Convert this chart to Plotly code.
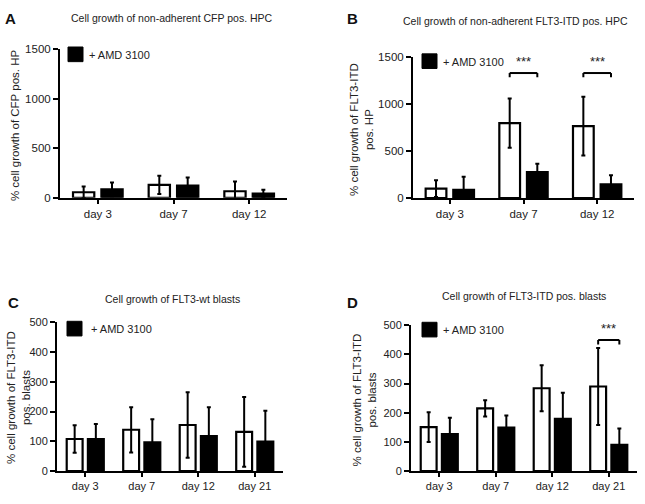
import plotly.graph_objects as go

# ---------------- data ----------------
days_3 = ["day 3", "day 7", "day 12"]
days_4 = ["day 3", "day 7", "day 12", "day 21"]

A_ctrl = [56, 130, 66]
A_ctrl_err = [59, 92, 98]
A_amd = [85, 122, 42]
A_amd_err = [70, 82, 40]

B_ctrl = [100, 797, 765]
B_ctrl_err = [90, 262, 312]
B_amd = [87, 277, 146]
B_amd_err = [138, 87, 97]

C_ctrl = [108, 139, 155, 132]
C_ctrl_err = [46, 76, 110, 117]
C_amd = [108, 97, 118, 99]
C_amd_err = [50, 77, 97, 104]

D_ctrl = [151, 215, 284, 290]
D_ctrl_err = [51, 28, 79, 132]
D_amd = [127, 149, 179, 90]
D_amd_err = [56, 42, 90, 56]

# significance: (category, label, bracket height)
B_sig = [("day 7", "***", 1330), ("day 12", "***", 1330)]
D_sig = [("day 21", "***", 449)]

titles = ["Cell growth of non-adherent CFP pos. HPC",
          "Cell growth of non-adherent FLT3-ITD pos. HPC",
          "Cell growth of FLT3-wt blasts",
          "Cell growth of FLT3-ITD pos. blasts"]
ytitles = ["% cell growth of CFP pos. HP",
           "% cell growth of FLT3-ITD<br>pos. HP",
           "% cell growth of FLT3-ITD<br>pos. blasts",
           "% cell growth of FLT3-ITD<br>pos. blasts"]
letters = ["A", "B", "C", "D"]
legend_label = "+ AMD 3100"

# ---------------- layout helpers ----------------
W, H = 645, 504
FONT = "Arial, Liberation Sans, sans-serif"


def fx(p):
    return p / W


def fy(p):
    return 1 - p / H


panels = [
    dict(cats=days_3, ctrl=A_ctrl, ce=A_ctrl_err, amd=A_amd, ae=A_amd_err, sig=[],
         xd=[fx(60), fx(287)], yd=[fy(196.5), fy(44)], ymax=1500, dtick=500,
         fs=11.5, ytp=(15, 122), sq=(68, 42), txt=(87, 50), title=(172, 12), letter=(10, 13)),
    dict(cats=days_3, ctrl=B_ctrl, ce=B_ctrl_err, amd=B_amd, ae=B_amd_err, sig=B_sig,
         xd=[fx(413), fx(634)], yd=[fy(196.7), fy(52.3)], ymax=1500, dtick=500,
         fs=11.5, ytp=(361, 126), sq=(422, 49), txt=(441, 57), title=(515, 15), letter=(353, 13)),
    dict(cats=days_4, ctrl=C_ctrl, ce=C_ctrl_err, amd=C_amd, ae=C_amd_err, sig=[],
         xd=[fx(57), fx(283)], yd=[fy(476.5), fy(324)], ymax=500, dtick=100,
         fs=11, ytp=(18.5, 401), sq=(67, 323), txt=(89, 331), title=(172, 300), letter=(13, 304)),
    dict(cats=days_4, ctrl=D_ctrl, ce=D_ctrl_err, amd=D_amd, ae=D_amd_err, sig=D_sig,
         xd=[fx(411), fx(637)], yd=[fy(476.5), fy(327)], ymax=500, dtick=100,
         fs=11, ytp=(364, 404), sq=(422, 324), txt=(441, 332), title=(524, 297), letter=(353, 304)),
]

fig = go.Figure()
shapes = []
annotations = []
layout = {}

HALF = 0.1875  # bar centre offset from category centre (from bargap settings)
SQ = 15        # legend swatch size in px

for i, p in enumerate(panels):
    n = i + 1
    xa = "x" if n == 1 else f"x{n}"
    ya = "y" if n == 1 else f"y{n}"
    fig.add_trace(go.Bar(
        x=p["cats"], y=p["ctrl"], xaxis=xa, yaxis=ya, name="control", showlegend=False,
        marker=dict(color="white", line=dict(color="black", width=2.2)),
        error_y=dict(type="data", array=p["ce"], visible=True, color="black",
                     thickness=2, width=2),
        offsetgroup="ctrl"))
    fig.add_trace(go.Bar(
        x=p["cats"], y=p["amd"], xaxis=xa, yaxis=ya, name=legend_label,
        showlegend=False,
        marker=dict(color="black", line=dict(color="black", width=2.2)),
        error_y=dict(type="data", array=p["ae"], visible=True, color="black",
                     thickness=2, width=2),
        offsetgroup="amd"))

    ncat = len(p["cats"])
    layout["xaxis" if n == 1 else f"xaxis{n}"] = dict(
        domain=p["xd"], anchor=ya, type="category", range=[-0.5, ncat - 0.5],
        showline=True, linecolor="black", linewidth=2, ticks="outside",
        ticklen=4, tickwidth=2, tickcolor="black", showgrid=False, zeroline=False,
        tickfont=dict(family=FONT, size=p["fs"], color="#222"))
    layout["yaxis" if n == 1 else f"yaxis{n}"] = dict(
        domain=p["yd"], anchor=xa, range=[0, p["ymax"]], dtick=p["dtick"],
        showline=True, linecolor="black", linewidth=2, ticks="outside",
        ticklen=5, tickwidth=2, tickcolor="black", showgrid=False, zeroline=False,
        tickfont=dict(family=FONT, size=p["fs"], color="#222"))

    # y-axis title
    annotations.append(dict(x=fx(p["ytp"][0]), y=fy(p["ytp"][1]), xref="paper",
                            yref="paper", text=ytitles[i], showarrow=False,
                            textangle=-90, xanchor="center", yanchor="middle",
                            font=dict(family=FONT, size=11.5, color="#222")))

    # legend swatch + label
    sx, sy = p["sq"]
    shapes.append(dict(type="rect", xref="paper", yref="paper",
                       x0=fx(sx), x1=fx(sx + SQ), y0=fy(sy + SQ), y1=fy(sy),
                       fillcolor="black", line=dict(color="black", width=1)))
    annotations.append(dict(x=fx(p["txt"][0]), y=fy(p["txt"][1]), xref="paper",
                            yref="paper", text=legend_label, showarrow=False,
                            xanchor="left", yanchor="middle",
                            font=dict(family=FONT, size=11, color="#222")))

    for cat, lab, h in p["sig"]:
        c = p["cats"].index(cat)
        leg = h - p["ymax"] * 0.03
        x0, x1 = c - HALF, c + HALF
        for (a, b, c2, d) in [(x0, leg, x0, h), (x0, h, x1, h), (x1, h, x1, leg)]:
            shapes.append(dict(type="line", xref=xa, yref=ya, x0=a, y0=b, x1=c2, y1=d,
                               line=dict(color="black", width=2)))
        annotations.append(dict(x=c, y=h + p["ymax"] * 0.012, xref=xa, yref=ya,
                                text=lab, showarrow=False, yanchor="bottom",
                                font=dict(family=FONT, size=13, color="#222")))

    annotations.append(dict(x=fx(p["title"][0]), y=fy(p["title"][1]), xref="paper",
                            yref="paper", text=titles[i], showarrow=False,
                            xanchor="center", yanchor="middle",
                            font=dict(family=FONT, size=10.5, color="#222")))
    annotations.append(dict(x=fx(p["letter"][0]), y=fy(p["letter"][1]), xref="paper",
                            yref="paper", text=f"<b>{letters[i]}</b>", showarrow=False,
                            xanchor="center", yanchor="middle",
                            font=dict(family=FONT, size=15, color="#111")))

fig.update_layout(
    width=W, height=H, margin=dict(l=0, r=0, t=0, b=0),
    paper_bgcolor="white", plot_bgcolor="white", showlegend=False,
    barmode="group", bargap=0.25, bargroupgap=0.25,
    shapes=shapes, annotations=annotations, **layout)

fig.write_html("out.html", config={"displayModeBar": False},
               post_script="document.body.style.margin='0px';")
